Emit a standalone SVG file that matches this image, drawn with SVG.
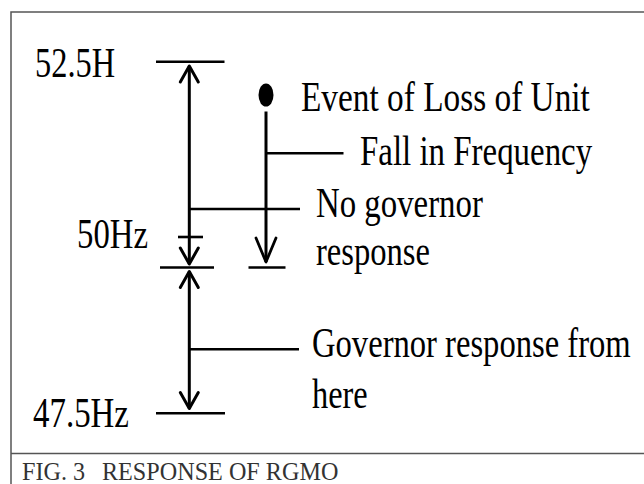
<svg xmlns="http://www.w3.org/2000/svg" width="644" height="484" viewBox="0 0 644 484">
  <style>
    .lbl { font-family: "Liberation Serif", "Times New Roman", serif; font-size: 42px; fill: #000; }
    .cap { font-family: "Liberation Serif", "Times New Roman", serif; font-size: 26px; fill: #333; }
    .ln { stroke: #000; stroke-width: 2.6; fill: none; }
    .ax { stroke: #000; stroke-width: 3; fill: none; }
    .frame { stroke: #555; stroke-width: 1.5; fill: none; }
  </style>
  <defs>
    <marker id="arr" viewBox="-20 -12 24 24" markerWidth="24" markerHeight="24" refX="0" refY="0" orient="auto-start-reverse" markerUnits="userSpaceOnUse">
      <path d="M-16,-9 L0,0 L-16,9" fill="none" stroke="#000" stroke-width="3" stroke-linejoin="round" stroke-linecap="round"/>
    </marker>
    <marker id="arrL" viewBox="-28 -13 32 26" markerWidth="32" markerHeight="26" refX="0" refY="0" orient="auto-start-reverse" markerUnits="userSpaceOnUse">
      <path d="M-24,-10 L0,0 L-24,10" fill="none" stroke="#000" stroke-width="2.8" stroke-linejoin="round" stroke-linecap="round"/>
    </marker>
  </defs>
  <rect width="644" height="484" fill="#fff"/>
  <g id="frame">
    <rect class="frame" x="11" y="12" width="700" height="520"/>
    <line class="frame" x1="11" y1="453.5" x2="644" y2="453.5"/>
  </g>

  <g id="level-52-5">
    <text class="lbl" transform="matrix(0.771 0 0 1 35 76.5)">52.5H</text>
    <line class="ln" x1="156" y1="61.7" x2="224.5" y2="61.7"/>
  </g>
  <g id="level-50">
    <text class="lbl" transform="matrix(0.78 0 0 1 77 248)">50Hz</text>
    <line class="ln" x1="178" y1="237" x2="203" y2="237"/>
    <line class="ln" x1="160" y1="267.5" x2="214" y2="267.5"/>
  </g>
  <g id="level-47-5">
    <text class="lbl" transform="matrix(0.784 0 0 1 33 427)">47.5Hz</text>
    <line class="ln" x1="156" y1="413.3" x2="225" y2="413.3"/>
  </g>
  <g id="event">
    <ellipse cx="266" cy="95" rx="7.5" ry="11.5" fill="#000"/>
    <text class="lbl" transform="matrix(0.794 0 0 1 301 111)">Event of Loss of Unit</text>
  </g>
  <g id="fall-end">
    <line class="ln" x1="248.5" y1="267.5" x2="285.5" y2="267.5"/>
  </g>
  <g id="fall-label">
    <text class="lbl" transform="matrix(0.784 0 0 1 360 165)">Fall in Frequency</text>
  </g>
  <g id="no-governor-label">
    <text class="lbl" transform="matrix(0.782 0 0 1 316 217)">No governor</text>
    <text class="lbl" transform="matrix(0.776 0 0 1 316 265)">response</text>
  </g>
  <g id="governor-label">
    <text class="lbl" transform="matrix(0.777 0 0 1 312 357)">Governor response from</text>
    <text class="lbl" transform="matrix(0.77 0 0 1 312 408)">here</text>
  </g>
  <g id="caption">
    <text class="cap" transform="matrix(0.93 0 0 1 22 480)"><tspan x="0">FIG. 3</tspan><tspan x="86">RESPONSE OF RGMO</tspan></text>
  </g>

  <g id="connectors">
    <line class="ax" x1="189.3" y1="66" x2="189.3" y2="264" marker-start="url(#arr)" marker-end="url(#arr)"/>
    <line class="ax" x1="189.3" y1="271.5" x2="189.3" y2="408.5" marker-start="url(#arr)" marker-end="url(#arr)"/>
    <line class="ax" x1="266" y1="111.5" x2="266" y2="262" marker-end="url(#arrL)"/>
    <line class="ln" x1="266" y1="153.3" x2="343.5" y2="153.3"/>
    <line class="ln" x1="189.3" y1="209" x2="300" y2="209"/>
    <line class="ln" x1="189.3" y1="349.3" x2="299" y2="349.3"/>
  </g>
</svg>
